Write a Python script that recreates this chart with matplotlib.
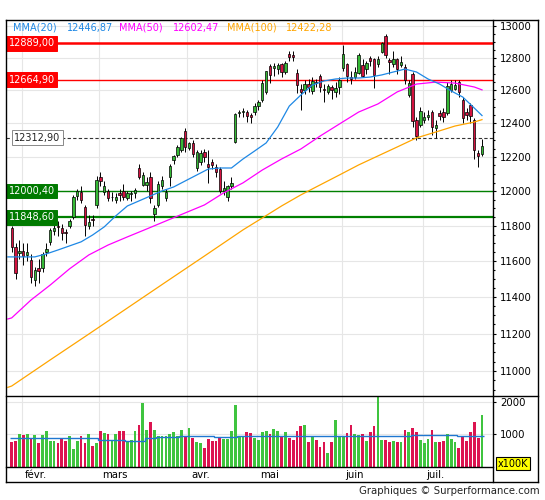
import matplotlib
matplotlib.use("Agg")
import matplotlib.pyplot as plt
import matplotlib.ticker as mticker
import matplotlib.transforms as mtrans
from matplotlib.lines import Line2D
import numpy as np

# daily candles, 30 Jan -> 25 Jul
opens = [11785, 11680, 11645, 11660, 11637, 11607, 11495, 11560, 11560, 11650,
         11709, 11770, 11800, 11790, 11765, 11800, 11852, 11970, 11997, 11910,
         11800, 11840, 11920, 12080, 11995, 12000, 11965, 11950, 11990, 12000,
         11960, 11985, 11990, 12135, 12036, 12036, 12082, 11870, 11920, 12030,
         11960, 12080, 12180, 12212, 12240, 12355, 12255, 12283, 12135, 12170,
         12230, 12160, 12170, 12141, 12129, 12000, 11966, 12030, 12291, 12460,
         12470, 12470, 12450, 12470, 12505, 12541, 12590, 12748, 12735, 12730,
         12760, 12710, 12825, 12820, 12706, 12608, 12602, 12640, 12595, 12650,
         12690, 12610, 12590, 12620, 12590, 12620, 12736, 12760, 12680, 12681,
         12706, 12755, 12730, 12800, 12790, 12760, 12835, 12935, 12786, 12760,
         12790, 12755, 12742, 12571, 12700, 12420, 12390, 12420, 12440, 12468,
         12370, 12465, 12470, 12465, 12602, 12610, 12650, 12541, 12468, 12511,
         12420, 12225, 12220]
highs = [11800, 11700, 11720, 11700, 11700, 11640, 11570, 11610, 11650, 11700,
         11790, 11830, 11830, 11810, 11780, 11840, 11975, 12010, 12030, 11920,
         11860, 11860, 12090, 12110, 12060, 12010, 11995, 11990, 12010, 12040,
         12000, 12000, 12020, 12160, 12110, 12080, 12110, 11920, 12060, 12090,
         12010, 12160, 12210, 12270, 12320, 12375, 12290, 12300, 12240, 12240,
         12245, 12241, 12190, 12160, 12140, 12060, 12035, 12082, 12460, 12480,
         12490, 12480, 12460, 12520, 12540, 12660, 12720, 12760, 12765, 12770,
         12770, 12780, 12840, 12840, 12730, 12640, 12660, 12670, 12680, 12670,
         12700, 12640, 12640, 12630, 12650, 12680, 12878, 12770, 12720, 12740,
         12830, 12790, 12780, 12810, 12800, 12810, 12900, 12951, 12800, 12840,
         12800, 12810, 12760, 12660, 12710, 12440, 12500, 12470, 12480, 12480,
         12420, 12480, 12490, 12650, 12660, 12660, 12665, 12560, 12490, 12520,
         12430, 12240, 12306]
lows = [11650, 11500, 11610, 11580, 11600, 11480, 11460, 11480, 11540, 11630,
        11690, 11750, 11740, 11720, 11700, 11790, 11840, 11950, 11930, 11740,
        11780, 11800, 11900, 12030, 11980, 11940, 11940, 11930, 11940, 11950,
        11950, 11940, 11960, 12070, 12030, 12000, 11930, 11830, 11910, 12010,
        11940, 12030, 12160, 12200, 12230, 12230, 12240, 12200, 12120, 12150,
        12170, 12047, 12130, 12080, 11990, 11980, 11940, 12010, 12285, 12440,
        12440, 12410, 12400, 12450, 12480, 12530, 12580, 12645, 12690, 12700,
        12680, 12700, 12780, 12780, 12584, 12480, 12580, 12590, 12580, 12620,
        12590, 12529, 12580, 12550, 12560, 12580, 12720, 12650, 12640, 12670,
        12700, 12680, 12700, 12750, 12614, 12740, 12830, 12800, 12700, 12740,
        12700, 12740, 12640, 12560, 12380, 12300, 12380, 12400, 12420, 12330,
        12310, 12420, 12410, 12450, 12590, 12600, 12560, 12400, 12420, 12400,
        12188, 12143, 12206]
closes = [11682, 11535, 11659, 11627, 11651, 11509, 11549, 11543, 11643, 11666,
          11774, 11790, 11794, 11757, 11757, 11828, 11967, 11998, 11947, 11804,
          11822, 11834, 12067, 12060, 12027, 11958, 11967, 11967, 11978, 11963,
          11990, 11988, 12009, 12083, 12095, 12052, 11962, 11904, 12040, 12064,
          11996, 12149, 12204, 12256, 12312.9, 12258, 12282, 12217, 12230, 12225,
          12200, 12139, 12154, 12109, 12000.4, 12016, 12027, 12048, 12455, 12467,
          12472, 12443, 12438, 12507, 12527, 12647, 12716, 12694, 12749, 12757,
          12711, 12770, 12807, 12804, 12631, 12590, 12638, 12619, 12659, 12642,
          12621, 12602, 12628, 12599, 12615, 12664.9, 12823, 12690, 12670, 12714,
          12815, 12690, 12765, 12778, 12691, 12790, 12889, 12814, 12774, 12794,
          12733, 12771, 12660, 12647, 12416, 12325, 12475, 12437, 12453, 12381,
          12389, 12445, 12437, 12627, 12641, 12631, 12587, 12430, 12452, 12447,
          12240, 12208, 12263]
# volume in x100K
volumes = [770, 800, 1010, 980, 1010, 850, 980, 730, 980, 1100,
           800, 790, 730, 870, 800, 950, 560, 790, 950, 730,
           1010, 650, 730, 1100, 1040, 1010, 800, 1010, 1100, 1100,
           800, 830, 1100, 1290, 1950, 1130, 1370, 1130, 960, 960,
           940, 1000, 1070, 960, 1130, 950, 1190, 880, 770, 740,
           590, 860, 800, 800, 880, 860, 860, 1100, 1910, 920,
           940, 1070, 1040, 880, 830, 1060, 1100, 1000, 1160, 1110,
           960, 1070, 900, 830, 1100, 1240, 1270, 770, 920, 820,
           610, 770, 420, 770, 1425, 920, 920, 1040, 1290, 1010,
           990, 1010, 800, 1080, 1250, 2300, 830, 830, 750, 780,
           750, 750, 1140, 1080, 1190, 1080, 830, 720, 860, 1140,
           770, 750, 780, 1010, 850, 750, 580, 930, 800, 1080,
           1390, 880, 1600]
vol_avg_edges = [-0.5, 22.5, 29.5, 34.5, 37.5, 43.5, 52.5, 58.5, 99.5, 103.5, 115.5, 122.5]
vol_avg_vals = [880, 840, 810, 875, 905, 935, 905, 945, 935, 965, 935]

month_labels = ["févr.", "mars", "avr.", "mai", "juin", "juil."]
month_start = [2, 22, 45, 63, 85, 106]

# moving averages (candle index, value)
ma20_idx = [-1, 0, 3, 6, 9, 12, 15, 18, 21, 24, 27, 30, 33, 36, 39, 42, 45, 48, 51, 54,
            57, 60, 63, 66, 69, 72, 75, 78, 81, 84, 87, 90, 93, 96, 99, 102, 105, 108,
            111, 114, 117, 120, 122]
ma20_val = [11624, 11624, 11624, 11624, 11641, 11663, 11686, 11709, 11748, 11794, 11857,
            11914, 11943, 11972, 12001, 12024, 12059, 12094, 12129, 12135, 12135, 12188,
            12235, 12283, 12378, 12504, 12571, 12632, 12657, 12669, 12675, 12675, 12681,
            12694, 12712, 12730, 12712, 12669, 12638, 12596, 12559, 12492, 12446.87]
ma50_idx = [-1, 0, 5, 10, 15, 20, 25, 30, 35, 40, 45, 50, 55, 60, 65, 70, 75, 80, 85, 90,
            95, 100, 105, 110, 115, 120, 122]
ma50_val = [11280, 11286, 11384, 11467, 11557, 11635, 11691, 11737, 11782, 11828, 11874,
            11920, 11990, 12048, 12123, 12188, 12247, 12324, 12396, 12468, 12517, 12590,
            12638, 12650, 12644, 12620, 12602.47]
ma100_idx = [-1, 0, 10, 20, 30, 40, 50, 60, 65, 70, 75, 80, 85, 90, 95, 100, 105, 110,
             115, 120, 122]
ma100_val = [10913, 10920, 11059, 11198, 11340, 11484, 11629, 11777, 11845, 11914, 11978,
             12036, 12094, 12153, 12206, 12259, 12313, 12348, 12384, 12408, 12422.28]

levels = [12889.00, 12664.90, 12312.90, 12000.40, 11848.60]

GREEN = "#35b935"
RED = "#d3123f"
VGREEN = "#3fc43f"
VRED = "#dc1450"
GRID = "#e6e6e6"


def fr(v):
    return f"{v:.2f}".replace(".", ",")


def chart():
    W, H = 545, 500
    fx = lambda px: px / W
    fy = lambda py: 1 - py / H
    L, R, T, SEP, VB, BOT, FR = 6.3, 493, 20.3, 395.5, 467, 482, 538

    fig = plt.figure(figsize=(5.45, 5.0), dpi=100)
    ax = fig.add_axes([fx(L), fy(SEP), fx(R) - fx(L), fy(T) - fy(SEP)])
    axv = fig.add_axes([fx(L), fy(VB), fx(R) - fx(L), fy(SEP) - fy(VB)])

    n = len(closes)
    x = np.arange(n)
    o, h, l, c = (np.array(a, dtype=float) for a in (opens, highs, lows, closes))
    up = c >= o

    # price panel
    ax.set_yscale("log")
    ax.set_xlim(-1.4, 124.85)
    ax.set_ylim(10870, 13034)
    for m in month_start:
        ax.axvline(m + 0.6, color=GRID, lw=0.8, zorder=0)
        axv.axvline(m + 0.6, color=GRID, lw=0.8, zorder=0)
    ax.yaxis.set_major_locator(mticker.FixedLocator(range(11000, 13001, 200)))
    ax.yaxis.set_minor_locator(mticker.FixedLocator([v for v in range(10900, 13050, 50) if v % 200]))
    ax.yaxis.set_major_formatter(mticker.FuncFormatter(lambda v, p: f"{int(round(v))}"))
    ax.yaxis.set_minor_formatter(mticker.NullFormatter())
    ax.grid(axis="y", which="major", color=GRID, lw=0.8, zorder=0)

    lv_style = [("#ff0000", 1.8, "-"), ("#ff0000", 1.0, "-"), ("#333333", 0.8, (0, (3, 2))),
                ("#008000", 1.0, "-"), ("#008000", 1.6, "-")]
    for lv, (colr, lw, ls) in zip(levels, lv_style):
        ax.axhline(lv, color=colr, lw=lw, ls=ls, zorder=2)

    ax.vlines(x, l, h, color="black", lw=0.7, zorder=3)
    body = np.maximum(np.abs(c - o), 3)
    ax.bar(x, body, bottom=np.minimum(o, c), width=0.62, color=np.where(up, GREEN, RED),
           edgecolor="black", linewidth=0.5, zorder=4)

    ax.plot(ma100_idx, ma100_val, color="#ffa500", lw=0.9, zorder=5)
    ax.plot(ma50_idx, ma50_val, color="#ff00ff", lw=0.9, zorder=5)
    ax.plot(ma20_idx, ma20_val, color="#1e88e5", lw=0.9, zorder=5)

    tr = mtrans.blended_transform_factory(ax.transAxes, ax.transData)
    box_style = [("#ff0000", "#ff0000", "white", 0.0045), ("#ff0000", "#ff0000", "white", 0.0045),
                 ("white", "#888888", "#222222", 0.0165),
                 ("#007a00", "#007a00", "white", 0.0045), ("#007a00", "#007a00", "white", 0.0045)]
    for lv, (fc, ec, tc, xo) in zip(levels, box_style):
        ax.text(xo, lv, fr(lv), transform=tr, ha="left", va="center", fontsize=7, color=tc,
                zorder=8, bbox=dict(boxstyle="square,pad=0.25", fc=fc, ec=ec, lw=0.7))

    ax.yaxis.tick_right()
    ax.tick_params(axis="y", which="major", length=2.4, width=0.8, pad=2.5, labelsize=7.3)
    ax.tick_params(axis="y", which="minor", length=1.6, width=0.8)
    ax.tick_params(axis="x", which="both", bottom=False, labelbottom=False)
    for s in ax.spines.values():
        s.set_visible(False)

    # legend line at top
    leg = [("MMA(20)", 13, "#1e88e5"), (fr(ma20_val[-1]), 66.5, "#1e88e5"),
           ("MMA(50)", 119, "#ff00ff"), (fr(ma50_val[-1]), 173, "#ff00ff"),
           ("MMA(100)", 226.5, "#ffa500"), (fr(ma100_val[-1]), 286, "#ffa500")]
    for txt, px, colr in leg:
        fig.text(fx(px), fy(28), txt, color=colr, fontsize=7, ha="left", va="center")

    # volume panel
    axv.set_xlim(-1.4, 124.85)
    axv.set_ylim(0, 2187)
    axv.bar(x, volumes, width=0.72, color=np.where(up, VGREEN, VRED), zorder=2)
    axv.stairs(vol_avg_vals, vol_avg_edges, color="#1f77d0", lw=1.0, baseline=None, zorder=3)
    axv.yaxis.tick_right()
    axv.set_yticks([1000, 2000])
    axv.yaxis.set_major_formatter(mticker.FuncFormatter(lambda v, p: f"{int(v)}"))
    axv.grid(axis="y", color=GRID, lw=0.8, zorder=0)
    axv.tick_params(axis="y", length=2.4, width=0.8, pad=2.5, labelsize=7.3)
    axv.tick_params(axis="x", bottom=False, labelbottom=False)
    for s in axv.spines.values():
        s.set_visible(False)
    fig.text(fx(498), fy(463.7), "x100K", fontsize=7, ha="left", va="center",
             bbox=dict(boxstyle="square,pad=0.18", fc="#ffff00", ec="black", lw=0.8))

    # month labels
    trd = mtrans.blended_transform_factory(axv.transData, fig.transFigure)
    for m, lab in zip(month_start, month_labels):
        fig.text(m + 1.5, fy(475), lab, transform=trd, fontsize=7.3, ha="left", va="center")

    # frame
    def hline(y, x0, x1):
        fig.add_artist(Line2D([fx(x0), fx(x1)], [fy(y), fy(y)], color="black", lw=1.0))

    def vline(xp, y0, y1):
        fig.add_artist(Line2D([fx(xp), fx(xp)], [fy(y0), fy(y1)], color="black", lw=1.0))

    hline(T, L, FR)
    hline(BOT, L, FR)
    hline(SEP, L, FR)
    hline(VB, L, R)
    vline(L, T, BOT)
    vline(FR, T, BOT)
    vline(R, T, BOT)

    fig.text(fx(540), fy(491), "Graphiques \u00a9 Surperformance.com", fontsize=7.3,
             ha="right", va="center", color="#222222")

    fig.savefig("out.png", dpi=100)


if __name__ == "__main__":
    chart()
